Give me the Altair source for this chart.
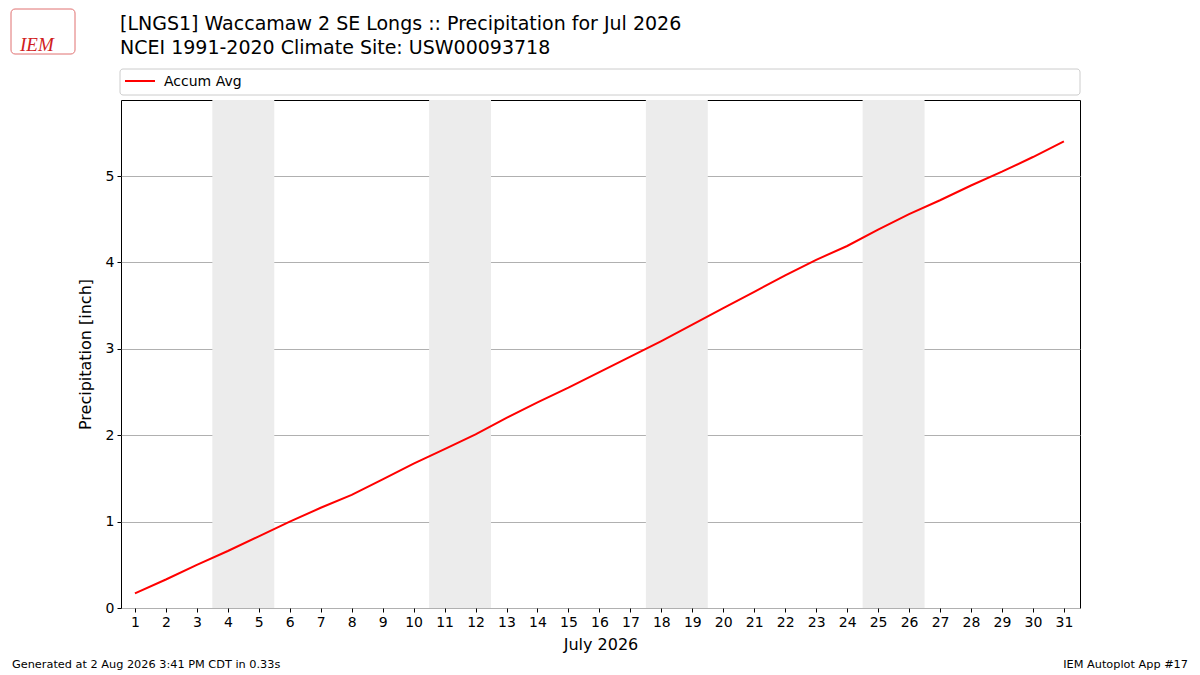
import pandas as pd
import altair as alt

FONT = "DejaVu Sans"
TITLE_1 = "[LNGS1] Waccamaw 2 SE Longs :: Precipitation for Jul 2026"
TITLE_2 = "NCEI 1991-2020 Climate Site: USW00093718"
FOOT_LEFT = "Generated at 2 Aug 2026 3:41 PM CDT in 0.33s"
FOOT_RIGHT = "IEM Autoplot App #17"

# day of month and climatological accumulated precip (inch)
DAYS = list(range(1, 32))
ACCUM = [0.17, 0.33, 0.50, 0.66, 0.83, 1.00, 1.16, 1.31, 1.49, 1.67,
         1.84, 2.01, 2.20, 2.38, 2.55, 2.73, 2.91, 3.09, 3.28, 3.47,
         3.66, 3.85, 4.03, 4.19, 4.38, 4.56, 4.72, 4.89, 5.05, 5.22, 5.40]
Y_TICKS = [0, 1, 2, 3, 4, 5]

# weekend shading (Sat-Sun)
WKND_START = [3.5, 10.5, 17.5, 24.5]
WKND_END = [5.5, 12.5, 19.5, 26.5]

W, H = 959, 508

df = pd.DataFrame({"day": DAYS, "accum": ACCUM})
wk = pd.DataFrame({"start": WKND_START, "end": WKND_END})
one = pd.DataFrame({"a": [0]})

xscale = alt.Scale(domain=[0.55, 31.52], nice=False, zero=False)
yscale = alt.Scale(domain=[0, 5.88], nice=False)

x_axis = alt.Axis(values=DAYS, grid=False, labelFontSize=14,
                  titleFontSize=16, tickSize=4, tickColor="black",
                  domain=False, labelPadding=3, titlePadding=7,
                  labelOverlap=False, labelFlush=False,
                  labelColor="black", titleColor="black",
                  titleFontWeight="normal")
y_axis = alt.Axis(values=Y_TICKS, grid=True,
                  gridColor="#b0b0b0", labelFontSize=14,
                  titleFontSize=16, tickSize=4, tickColor="black",
                  domain=False, labelPadding=3, titlePadding=12,
                  labelOverlap=False, labelFlush=False,
                  labelColor="black", titleColor="black",
                  titleFontWeight="normal")

bands = alt.Chart(wk).mark_rect(color="#ececec").encode(
    x=alt.X("start:Q", scale=xscale, axis=x_axis, title="July 2026"),
    x2="end:Q",
    y=alt.value(0), y2=alt.value(H),
)

line = alt.Chart(df).mark_line(color="red", strokeWidth=2).encode(
    x=alt.X("day:Q", scale=xscale, title="July 2026", axis=x_axis),
    y=alt.Y("accum:Q", scale=yscale, title="Precipitation [inch]",
            axis=y_axis),
)

def txt(s, x, y, size, align="left"):
    return alt.Chart(one).mark_text(text=s, align=align, baseline="alphabetic",
                                    fontSize=size, font=FONT, color="black"
                                    ).encode(x=alt.value(x), y=alt.value(y))

title1 = txt(TITLE_1, -1, -70, 19)
title2 = txt(TITLE_2, -1, -46, 19)

legend_box = alt.Chart(one).mark_rect(fill="white", stroke="#cccccc",
                                      cornerRadius=3).encode(
    x=alt.value(-1), x2=alt.value(W), y=alt.value(-31), y2=alt.value(-5))
legend_line = alt.Chart(one).mark_rule(color="red", strokeWidth=2).encode(
    x=alt.value(4), x2=alt.value(34), y=alt.value(-19))
legend_txt = txt("Accum Avg", 43, -14, 14)

foot_l = txt(FOOT_LEFT, -109, 568, 11.3)
foot_r = txt(FOOT_RIGHT, 1067, 568, 11.3, align="right")

# stand-in for the IEM logo
logo_box = alt.Chart(one).mark_rect(fill="white", stroke="#e07070",
                                    strokeWidth=1, cornerRadius=4).encode(
    x=alt.value(-110), x2=alt.value(-46), y=alt.value(-91), y2=alt.value(-46))
logo = alt.Chart(one).mark_text(text="IEM", align="left", baseline="alphabetic",
                                fontSize=19, font="Liberation Serif",
                                fontStyle="italic", color="#d02020").encode(
    x=alt.value(-101), y=alt.value(-49))

chart = alt.layer(
    bands, line, title1, title2, legend_box, legend_line, legend_txt,
    foot_l, foot_r, logo_box, logo,
).properties(
    width=W, height=H,
    padding={"left": 113, "top": 92, "right": 110, "bottom": 66},
    autosize=alt.AutoSizeParams(type="none"),
).configure(
    font=FONT,
).configure_view(
    stroke="black", strokeWidth=1,
)

chart.save("out.html", embed_options={"renderer": "svg", "actions": False})
